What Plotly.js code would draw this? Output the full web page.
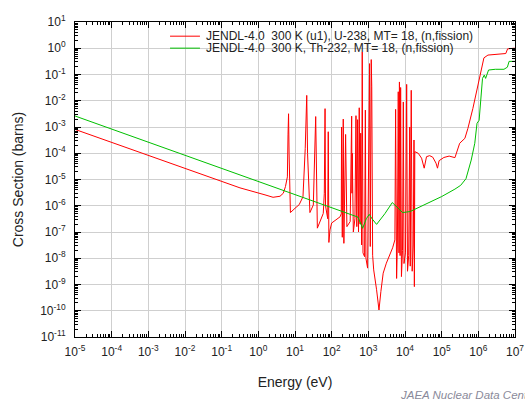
<!DOCTYPE html>
<html><head><meta charset="utf-8">
<script src="https://cdn.plot.ly/plotly-3.0.1.min.js"></script>
<style>html,body{margin:0;padding:0;background:#fff;}#chart{width:525px;height:403px;}</style>
</head><body><div id="chart"></div>
<script>
const seriesNames = [
  "JENDL-4.0  300 K (u1), U-238, MT= 18, (n,fission)",
  "JENDL-4.0  300 K, Th-232, MT= 18, (n,fission)"
];
const u238Energy = [1e-5, 1e-3, 0.1, 0.316, 1.52, 2.52, 3.9, 4.8, 5.5, 6.2, 6.45, 6.67, 6.9, 7.5, 10, 13, 16.5, 19, 20.9, 22, 25.5, 31.6, 36.7, 40.7, 59, 63, 66, 68, 78, 80.7, 84, 90, 100, 130, 170, 183, 186, 195, 207, 215, 240, 260, 320, 351, 358, 365, 390, 431, 460, 485, 510, 540, 565, 595, 620, 655, 682, 715, 790, 830, 860, 955, 1080, 1130, 1200, 1240, 1310, 1400, 1680, 1950, 2200, 2540, 3100, 3800, 4600, 5300, 5550, 5900, 6200, 6550, 6850, 7050, 7350, 7600, 8000, 8550, 9000, 9400, 10300, 11100, 11700, 12600, 13450, 13900, 14800, 15700, 16800, 17600, 18000, 18500, 22900, 28300, 33400, 38600, 47000, 57000, 70000, 77000, 85000, 115000, 160000, 230000, 310000, 430000, 520000, 710000, 840000, 1.03e6, 1.2e6, 1.42e6, 1.83e6, 3.1e6, 4.5e6, 5.6e6, 6.3e6, 9.3e6, 2e7];
const u238XS = [8.1e-4, 8.1e-5, 8.1e-6, 4.8e-6, 2.6e-6, 2.1e-6, 2.3e-6, 3.0e-6, 5.4e-6, 1.26e-5, 5e-4, 3.2e-3, 1e-4, 5.5e-7, 8e-7, 1.1e-6, 2.2e-6, 1.5e-4, 1.6e-2, 1e-4, 5.5e-7, 1.07e-6, 2.5e-3, 1.4e-7, 5.1e-7, 3e-6, 5e-3, 1e-6, 3.2e-7, 6.6e-4, 4e-8, 1.2e-7, 2.2e-7, 2.8e-7, 3.8e-7, 5e-7, 1e-3, 6.3e-8, 2e-3, 3.7e-8, 5.2e-4, 1.6e-7, 2.5e-7, 2.6e-3, 3e-6, 1e-4, 1e-7, 3.2e-7, 2.7e-3, 1.6e-7, 1.9e-3, 1e-7, 5.4e-3, 2e-7, 5.8e-4, 3.2e-8, 0.72, 1.6e-8, 1.15e-8, 4.4e-3, 1e-8, 4.2e-9, 0.26, 2.8e-8, 0.37, 3.4e-2, 1.3e-8, 3.6e-9, 6.3e-10, 1.07e-10, 5.4e-10, 2.7e-9, 6.5e-9, 1.35e-8, 2.5e-8, 5e-8, 4.7e-3, 1.7e-9, 3.2e-8, 2.2e-2, 1.6e-8, 5.2e-2, 1.26e-8, 3.2e-2, 2e-9, 2e-8, 9e-3, 6.3e-9, 1.6e-8, 4.2e-2, 3.2e-9, 1.26e-8, 1e-3, 5e-9, 2.5e-2, 3.2e-9, 3.2e-8, 3.2e-4, 8.3e-10, 1.15e-4, 1e-4, 6.5e-5, 2.7e-5, 7.4e-5, 8.1e-5, 7.1e-5, 4.2e-5, 2.7e-5, 5.2e-5, 6.9e-5, 7.8e-5, 6.8e-5, 2.4e-4, 3.7e-4, 8.9e-4, 5.1e-3, 1.5e-2, 5.2e-2, 0.126, 0.43, 0.55, 0.59, 0.63, 0.63, 0.95, 1.0, 1.0];
const th232Energy = [1e-5, 1, 100, 520, 700, 880, 1060, 1260, 1680, 2830, 4500, 7200, 8600, 13700, 18000, 42700, 1e5, 2.3e5, 3.3e5, 4.6e5, 6.4e5, 8e5, 9.2e5, 1.05e6, 1.15e6, 1.3e6, 1.45e6, 1.58e6, 1.9e6, 2.9e6, 5e6, 6.2e6, 6.9e6, 1e7, 2e7];
const th232XS = [2.63e-3, 8.3e-6, 8.3e-7, 3.7e-7, 1.38e-7, 3.2e-7, 4.7e-7, 3.2e-7, 1.95e-7, 5e-7, 1.32e-6, 6.9e-7, 5.5e-7, 6e-7, 7.2e-7, 1.23e-6, 2.24e-6, 4.3e-6, 6e-6, 1.07e-5, 5.5e-5, 2.4e-4, 1.38e-3, 1.8e-3, 7.9e-3, 7.1e-2, 9.5e-2, 7.1e-2, 0.148, 0.158, 0.158, 0.19, 0.316, 0.316, 0.32];
const xTickVals = [1e-5,1e-4,1e-3,1e-2,1e-1,1,10,100,1e3,1e4,1e5,1e6,1e7];
const xTickText = ["10<sup>-5</sup>","10<sup>-4</sup>","10<sup>-3</sup>","10<sup>-2</sup>","10<sup>-1</sup>","10<sup>0</sup>","10<sup>1</sup>","10<sup>2</sup>","10<sup>3</sup>","10<sup>4</sup>","10<sup>5</sup>","10<sup>6</sup>","10<sup>7</sup>"];
const yTickVals = [1e-11,1e-10,1e-9,1e-8,1e-7,1e-6,1e-5,1e-4,1e-3,1e-2,1e-1,1,10];
const yTickText = ["10<sup>-11</sup>","10<sup>-10</sup>","10<sup>-9</sup>","10<sup>-8</sup>","10<sup>-7</sup>","10<sup>-6</sup>","10<sup>-5</sup>","10<sup>-4</sup>","10<sup>-3</sup>","10<sup>-2</sup>","10<sup>-1</sup>","10<sup>0</sup>","10<sup>1</sup>"];
const seriesColors = ["#ff0000", "#00c000"];

const FONT = "Liberation Sans, Arial, sans-serif";
const traces = [
  {x: u238Energy, y: u238XS, type: "scatter", mode: "lines", name: seriesNames[0], line: {color: seriesColors[0], width: 1}},
  {x: th232Energy, y: th232XS, type: "scatter", mode: "lines", name: seriesNames[1], line: {color: seriesColors[1], width: 1}}
];
const axisCommon = {
  type: "log", tickmode: "array", showline: true, linecolor: "#000", linewidth: 1, mirror: "allticks",
  ticks: "inside", ticklen: 6, tickcolor: "#000", showgrid: true, gridcolor: "#cfcfcf", gridwidth: 1,
  zeroline: false, tickfont: {family: FONT, size: 12, color: "#222"},
  minor: {dtick: "D1", ticks: "inside", ticklen: 3, tickcolor: "#000", showgrid: false}
};
const layout = {
  width: 525, height: 403,
  margin: {l: 75, r: 10, t: 22, b: 66},
  paper_bgcolor: "#fff", plot_bgcolor: "#fff",
  showlegend: false,
  font: {family: FONT},
  xaxis: Object.assign({}, axisCommon, {
    range: [-5, 7], tickvals: xTickVals, ticktext: xTickText, ticklabelstandoff: 4,
    title: {text: "Energy (eV)", font: {family: FONT, size: 14, color: "#222"}, standoff: 18}
  }),
  yaxis: Object.assign({}, axisCommon, {
    range: [-11, 1], tickvals: yTickVals, ticktext: yTickText, ticklabelstandoff: 6,
    title: {text: "Cross Section (barns)", font: {family: FONT, size: 14, color: "#222"}, standoff: 13}
  }),
  shapes: [
    {type: "rect", xref: "paper", yref: "paper", x0: 0.2, x1: 0.916, y0: 0.876, y1: 1.0, fillcolor: "#fff", line: {width: 0}, layer: "between"},
    {type: "line", xref: "paper", yref: "paper", x0: 0.216, x1: 0.284, y0: 0.955, y1: 0.955, line: {color: seriesColors[0], width: 1}},
    {type: "line", xref: "paper", yref: "paper", x0: 0.216, x1: 0.284, y0: 0.917, y1: 0.917, line: {color: seriesColors[1], width: 1}}
  ],
  annotations: [
    {xref: "paper", yref: "paper", x: 0.293, y: 0.955, xanchor: "left", yanchor: "middle", showarrow: false, text: seriesNames[0], font: {family: FONT, size: 12, color: "#222"}},
    {xref: "paper", yref: "paper", x: 0.293, y: 0.917, xanchor: "left", yanchor: "middle", showarrow: false, text: seriesNames[1], font: {family: FONT, size: 12, color: "#222"}},
    {xref: "paper", yref: "paper", x: (398 - 75) / 440, y: (337.2 - 395) / 315.4, xanchor: "left", yanchor: "middle", showarrow: false, text: "<i>JAEA Nuclear Data Center</i>", font: {family: FONT, size: 11.5, color: "#8a8a9a"}}
  ]
};
Plotly.newPlot("chart", traces, layout, {staticPlot: true, displayModeBar: false});
</script></body></html>
